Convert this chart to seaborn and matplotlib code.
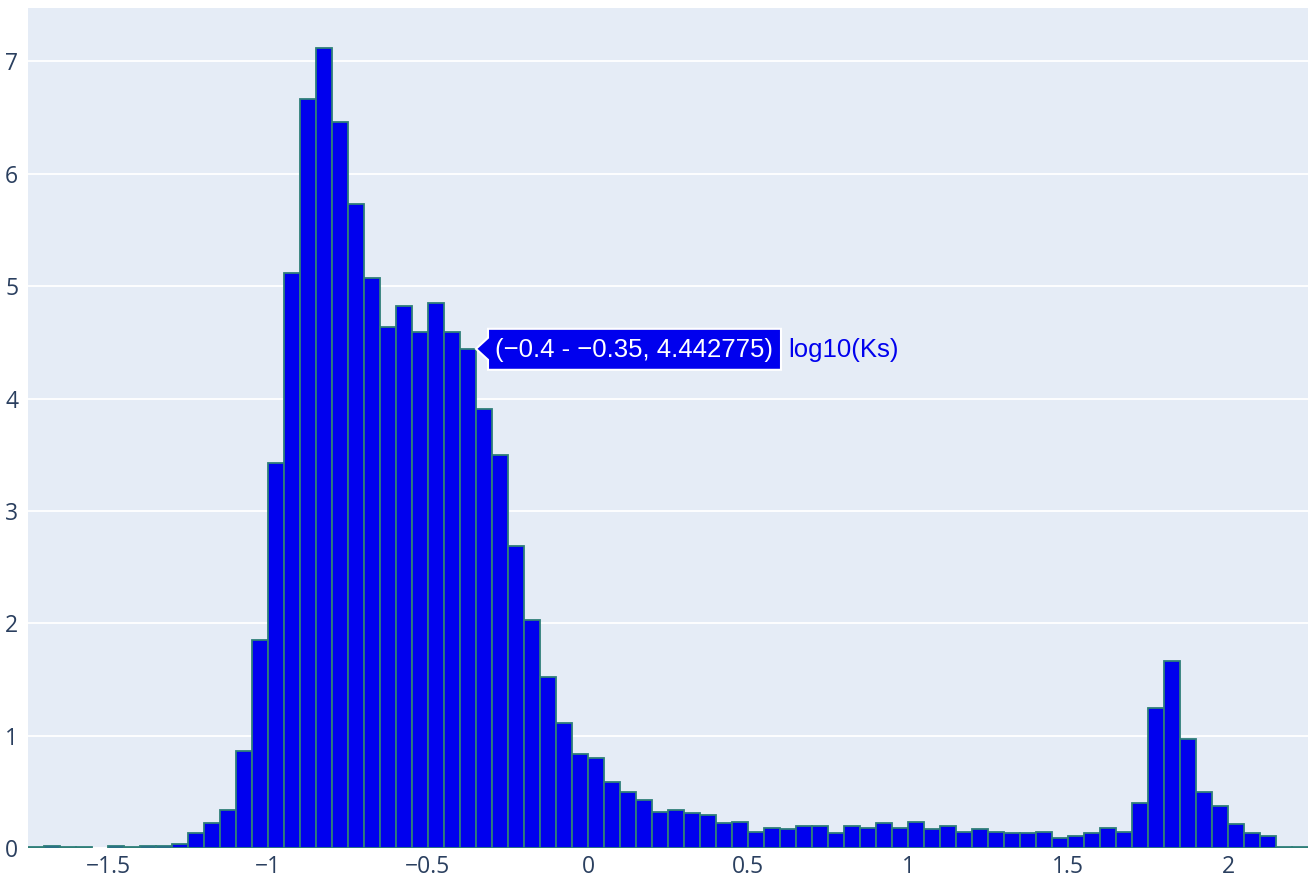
import numpy as np
import pandas as pd
import seaborn as sns
import matplotlib.pyplot as plt
from matplotlib.patches import Polygon
from matplotlib.transforms import Affine2D

# histogram of log10(Ks), bin width 0.05, bins start at -1.75
bin_start = -1.75
bin_width = 0.05
heights = [
    0.005, 0.02, 0.005, 0.005, 0.0, 0.02, 0.005, 0.02, 0.02, 0.04,
    0.13, 0.22, 0.34, 0.86, 1.85, 3.43, 5.12, 6.67, 7.12, 6.46,
    5.73, 5.07, 4.64, 4.82, 4.59, 4.85, 4.59, 4.442775, 3.91, 3.50,
    2.69, 2.03, 1.52, 1.11, 0.84, 0.805, 0.59, 0.50, 0.43, 0.32,
    0.34, 0.31, 0.29, 0.22, 0.235, 0.145, 0.18, 0.165, 0.20, 0.20,
    0.13, 0.20, 0.18, 0.22, 0.18, 0.235, 0.165, 0.20, 0.145, 0.165,
    0.145, 0.13, 0.13, 0.145, 0.09, 0.11, 0.13, 0.18, 0.145, 0.40,
    1.25, 1.66, 0.966, 0.50, 0.377, 0.217, 0.13, 0.11, 0.005, 0.005,
]
x_ticks = [-1.5, -1, -0.5, 0, 0.5, 1, 1.5, 2]
y_ticks = [0, 1, 2, 3, 4, 5, 6, 7]
trace_name = "log10(Ks)"
hover_bin = 27  # the bin under the mouse: -0.4 to -0.35

edges = np.round(bin_start + bin_width * np.arange(len(heights) + 1), 2)
df = pd.DataFrame({"center": (edges[:-1] + edges[1:]) / 2, "height": heights})

sns.set_style("darkgrid", {"axes.facecolor": "#E5ECF6", "grid.color": "white"})
plt.rcParams["font.family"] = ["Open Sans", "DejaVu Sans"]

fig = plt.figure(figsize=(13.1, 8.84), dpi=100)
ax = fig.add_axes([28 / 1310, 36 / 884, 1280 / 1310, 840 / 884])

sns.histplot(data=df, x="center", weights="height", bins=edges.tolist(), ax=ax,
             color="#0000EE", alpha=1, edgecolor="#2F7F79", linewidth=1.3)

# plotly does not draw empty bins
for p in ax.patches:
    if p.get_height() == 0:
        p.set_visible(False)

ax.set_xlim(edges[0], edges[-1])
ax.set_ylim(0, max(heights) * 1.05)
ax.set_xticks(x_ticks)
ax.set_xticklabels([f"{t:g}".replace("-", "\u2212") for t in x_ticks])
ax.set_yticks(y_ticks)
ax.set_xlabel("")
ax.set_ylabel("")
ax.grid(axis="x", visible=False)
ax.grid(axis="y", color="white", linewidth=1.3)
ax.set_axisbelow(True)
for s in ax.spines.values():
    s.set_visible(False)
ax.tick_params(axis="both", length=0, labelsize=16.5, labelcolor="#2A3F5F")
ax.tick_params(axis="x", pad=5)
ax.tick_params(axis="y", pad=7)

# hover label at the right edge of the hovered bar
tip_x = edges[hover_bin + 1]
tip_y = heights[hover_bin]
fig.canvas.draw()
tx, ty = ax.transData.transform((tip_x, tip_y))
shape = [(0, 0), (12, 11), (12, 20), (305, 20), (305, -21), (12, -21), (12, -11)]
ax.add_patch(Polygon(shape, closed=True, facecolor="#0000EE", edgecolor="white",
                     linewidth=1.5, transform=Affine2D().translate(tx, ty),
                     zorder=5, clip_on=False))
fmt = lambda v: f"{v:g}".replace("-", "\u2212")
hover_text = f"({fmt(edges[hover_bin])} - {fmt(edges[hover_bin + 1])}, {tip_y})"
ax.annotate(hover_text, xy=(tip_x, tip_y), xytext=(19, -1), textcoords="offset pixels",
            va="center", ha="left", color="white", fontsize=18.5,
            family=["Liberation Sans", "DejaVu Sans"], zorder=6)
ax.annotate(trace_name, xy=(tip_x, tip_y), xytext=(312, -1), textcoords="offset pixels",
            va="center", ha="left", color="#0000EE", fontsize=18.5,
            family=["Liberation Sans", "DejaVu Sans"], zorder=6)

fig.savefig("out.png", dpi=100)
